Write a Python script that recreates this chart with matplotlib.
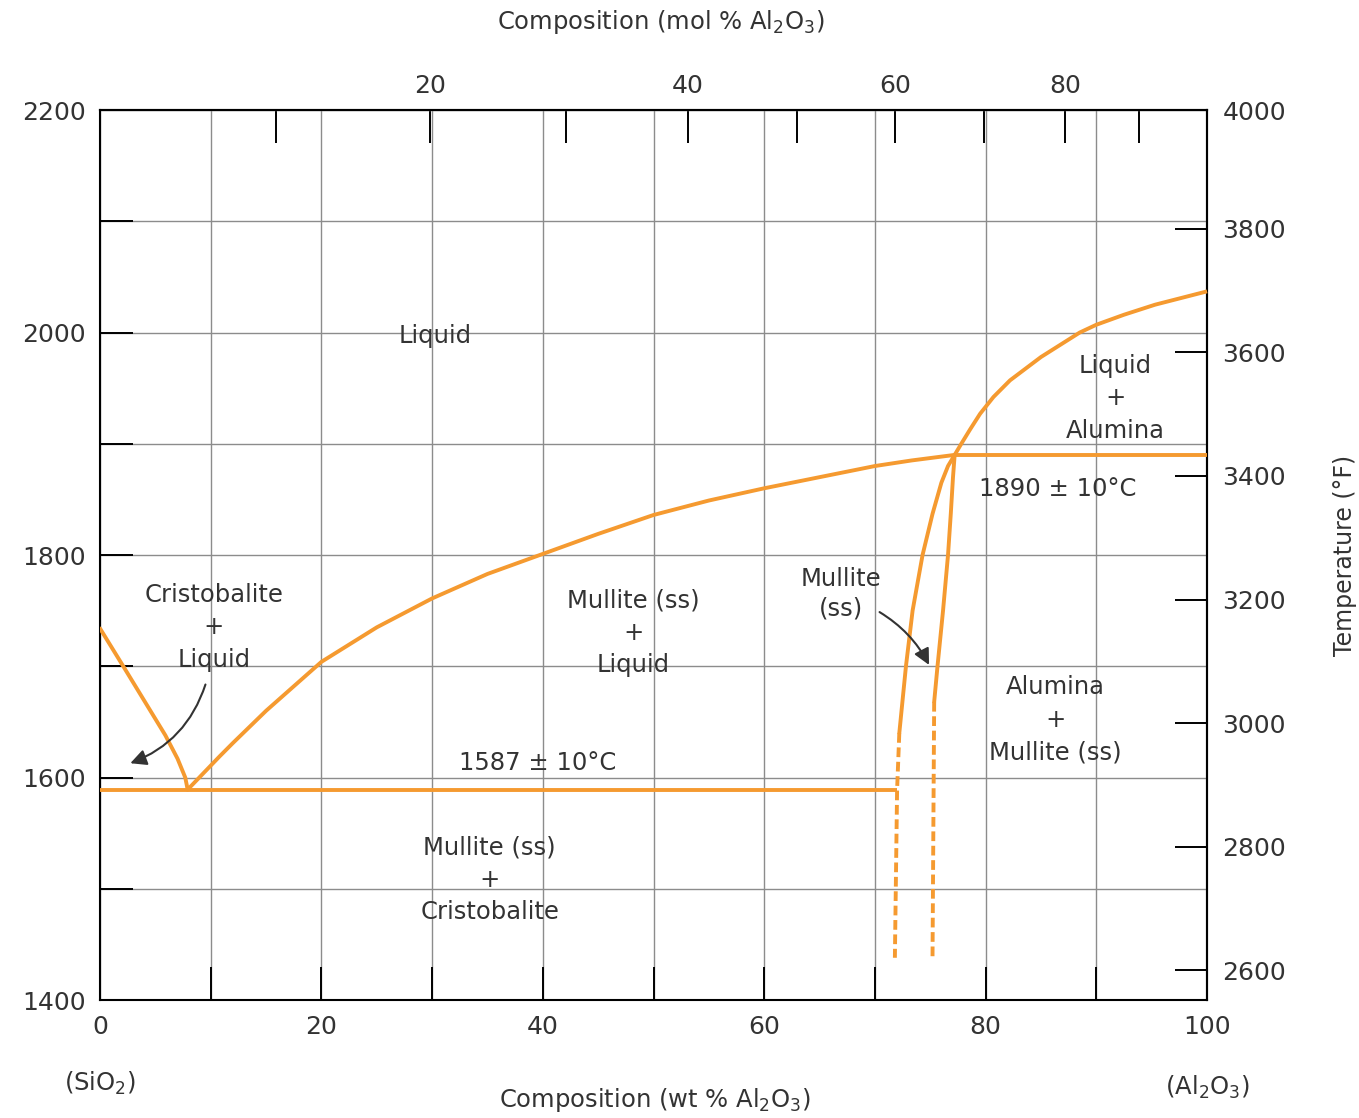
import numpy as np
import matplotlib
matplotlib.use("Agg")
import matplotlib.pyplot as plt

# phase boundaries (wt% Al2O3, deg C)
cristo_wt = [0, 2.1, 4, 5.9, 7.0, 7.7, 7.9]
cristo_T = [1734, 1700, 1669, 1638, 1617, 1600, 1590]

mullite_liq_wt = [7.9, 10.8, 12, 15, 20, 25, 30, 35, 40, 45, 50, 55, 60, 65, 70, 73.3, 77.2]
mullite_liq_T = [1589, 1619, 1631, 1660, 1704, 1735, 1761, 1783, 1801, 1819, 1836, 1849, 1860, 1870, 1880, 1885, 1890]

eutectic_wt = [0, 72.0]
eutectic_T = [1589, 1589]

left_solid_wt = [77.2, 76.6, 76.0, 75.2, 74.3, 73.4, 72.8, 72.2]
left_solid_T = [1890, 1880, 1865, 1837, 1800, 1750, 1700, 1640]
left_dash_wt = [72.2, 72.0, 71.8]
left_dash_T = [1640, 1589, 1438]

right_solid_wt = [77.2, 77.05, 76.85, 76.6, 76.15, 75.65, 75.35]
right_solid_T = [1890, 1870, 1837, 1800, 1750, 1700, 1668]
right_dash_wt = [75.35, 75.2]
right_dash_T = [1668, 1438]

peritectic_wt = [77.2, 100]
peritectic_T = [1890, 1890]

alumina_liq_wt = [77.2, 77.8, 78.6, 79.5, 80.7, 82.2, 85, 88.5, 90, 92.5, 95.3, 100]
alumina_liq_T = [1890, 1900, 1913, 1927, 1942, 1957, 1978, 2000, 2007, 2016, 2025, 2037]

wt_ticks = list(range(0, 101, 10))
c_ticks = list(range(1400, 2201, 100))
mol_ticks = list(range(10, 91, 10))
f_ticks = [2600, 2800, 3000, 3200, 3400, 3600, 3800]

M_AL2O3 = 101.96
M_SIO2 = 60.08

ORANGE = "#f59a30"
TXT = "#333333"


def wt_to_mol(w):
    w = np.asarray(w, dtype=float)
    a = w / M_AL2O3
    s = (100 - w) / M_SIO2
    with np.errstate(divide="ignore", invalid="ignore"):
        return 100 * a / (a + s)


def mol_to_wt(m):
    m = np.asarray(m, dtype=float)
    a = m * M_AL2O3
    s = (100 - m) * M_SIO2
    with np.errstate(divide="ignore", invalid="ignore"):
        return 100 * a / (a + s)


def c_to_f(c):
    return np.asarray(c, dtype=float) * 9 / 5 + 32


def f_to_c(f):
    return (np.asarray(f, dtype=float) - 32) * 5 / 9


plt.rcParams["font.family"] = ["DejaVu Sans"]
plt.rcParams["text.color"] = TXT

fig = plt.figure(figsize=(13.59, 11.18), dpi=100)
ax = fig.add_axes([0.0736, 0.1055, 0.8146, 0.7961])

ax.set_xlim(0, 100)
ax.set_ylim(1400, 2200)

ax.set_xticks(wt_ticks)
ax.set_xticklabels([str(t) if t % 20 == 0 else "" for t in wt_ticks])
ax.set_yticks(c_ticks)
ax.set_yticklabels([str(t) if t % 200 == 0 else "" for t in c_ticks])
ax.tick_params(direction="in", length=24, width=1.4, labelsize=18,
               labelcolor=TXT, pad=10)
ax.tick_params(axis="x", pad=11)
ax.grid(True, color="#8c8c8c", lw=1.0)
for sp in ax.spines.values():
    sp.set_linewidth(1.5)

line = dict(color=ORANGE, lw=2.8, zorder=3, solid_joinstyle="round",
            solid_capstyle="round")
dash = dict(color=ORANGE, lw=2.8, zorder=3, ls=(0, (2.5, 1.2)))
ax.plot(cristo_wt, cristo_T, **line)
ax.plot(mullite_liq_wt, mullite_liq_T, **line)
ax.plot(eutectic_wt, eutectic_T, clip_on=False, **dict(line, solid_capstyle="butt"))
ax.plot(left_solid_wt, left_solid_T, **line)
ax.plot(right_solid_wt, right_solid_T, **line)
ax.plot(left_dash_wt, left_dash_T, **dash)
ax.plot(right_dash_wt, right_dash_T, **dash)
ax.plot(peritectic_wt, peritectic_T, clip_on=False, **dict(line, solid_capstyle="butt"))
ax.plot(alumina_liq_wt, alumina_liq_T, clip_on=False, **dict(line, solid_capstyle="butt"))

fs = 17.5
lab = dict(ha="center", va="center", fontsize=fs, color=TXT, linespacing=1.45, zorder=4)
ax.text(30.3, 1997, "Liquid", **lab)
ax.text(10.3, 1735, "Cristobalite\n+\nLiquid", **lab)
ax.text(48.2, 1730, "Mullite (ss)\n+\nLiquid", **lab)
ax.text(66.9, 1765, "Mullite\n(ss)", **dict(lab, linespacing=1.3))
ax.text(91.7, 1941, "Liquid\n+\nAlumina", **lab)
ax.text(86.5, 1859, "1890 ± 10°C", **lab)
ax.text(39.5, 1613, "1587 ± 10°C", **lab)
ax.text(86.3, 1652, "Alumina\n+\nMullite (ss)", **lab)
ax.text(35.2, 1508, "Mullite (ss)\n+\nCristobalite", **lab)

arrow = dict(arrowstyle="-|>", color="#333333", lw=1.5, mutation_scale=24)
ax.annotate("", xy=(2.5, 1612), xytext=(9.6, 1686),
            arrowprops=dict(arrow, connectionstyle="arc3,rad=-0.25"))
ax.annotate("", xy=(75.0, 1699), xytext=(70.2, 1750),
            arrowprops=dict(arrow, connectionstyle="arc3,rad=-0.15"))

# top axis: mol %
top = ax.secondary_xaxis("top", functions=(wt_to_mol, mol_to_wt))
top.set_xticks(mol_ticks)
top.set_xticklabels([str(t) if t % 20 == 0 else "" for t in mol_ticks])
top.tick_params(direction="in", length=24, width=1.4, labelsize=18,
                labelcolor=TXT, pad=9)
top.spines["top"].set_linewidth(1.5)

# right axis: deg F
right = ax.secondary_yaxis("right", functions=(c_to_f, f_to_c))
right.set_yticks(f_ticks)
right.tick_params(direction="in", length=23, width=1.4, labelsize=18,
                  labelcolor=TXT, pad=11)
right.spines["right"].set_linewidth(1.5)
ax.annotate("4000", xy=(1, f_to_c(4000)), xycoords=("axes fraction", "data"),
            xytext=(11, -6), textcoords="offset points", ha="left", va="center",
            fontsize=18, color=TXT, annotation_clip=False)
right.set_ylabel("Temperature (°F)", fontsize=17, color=TXT, labelpad=34)

fig.text(0.486, 0.980, r"Composition (mol % Al$_2$O$_3$)", ha="center", va="center",
         fontsize=fs, color=TXT)
fig.text(0.482, 0.016, r"Composition (wt % Al$_2$O$_3$)", ha="center", va="center",
         fontsize=fs, color=TXT)
ax.annotate(r"(SiO$_2$)", xy=(0, 0), xycoords="axes fraction", xytext=(0, -60),
            textcoords="offset points", ha="center", va="center", fontsize=fs,
            color=TXT, annotation_clip=False)
ax.annotate(r"(Al$_2$O$_3$)", xy=(1, 0), xycoords="axes fraction", xytext=(0, -63),
            textcoords="offset points", ha="center", va="center", fontsize=fs,
            color=TXT, annotation_clip=False)

fig.savefig("out.png", dpi=100)
